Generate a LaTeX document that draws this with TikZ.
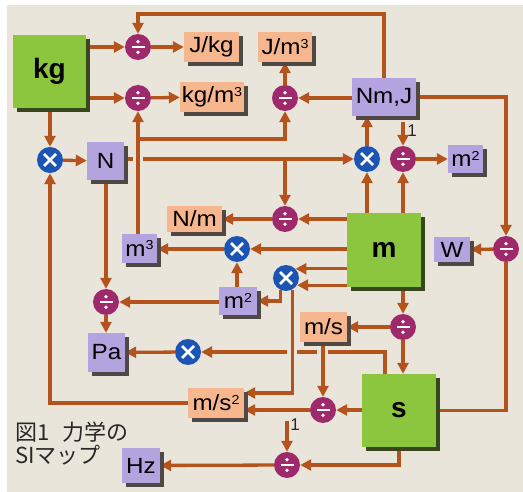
\documentclass[tikz,border=0pt]{standalone}
\usepackage{fontspec}
\setmainfont{Liberation Sans}
\newfontfamily\labf[FakeStretch=1.1]{Liberation Sans}
\newfontfamily\cjkf{Noto Sans CJK JP}
\usetikzlibrary{arrows.meta,calc}
\definecolor{bgc}{RGB}{233,229,219}
\definecolor{lc}{RGB}{180,84,28}
\definecolor{grc}{RGB}{140,198,63}
\definecolor{grsh}{RGB}{55,70,28}
\definecolor{orc}{RGB}{246,182,142}
\definecolor{puc}{RGB}{179,163,222}
\definecolor{shc}{RGB}{80,72,68}
\definecolor{dvc}{RGB}{158,42,108}
\definecolor{tmc}{RGB}{28,84,180}
\definecolor{capc}{RGB}{40,40,40}
\newcommand{\spw}[1]{\raisebox{6.5pt}{\fontsize{13}{13}\selectfont #1}}
% \ubox{name}{style}{shadowcolour}{w}{h}{x}{y}{text}
\newcommand{\ubox}[8]{%
  \node[rectangle, inner sep=0pt, fill=#3, minimum width=#4pt, minimum height=#5pt] (#1-sh) at (#6+4,#7+4) {};
  \node[#2, minimum width=#4pt, minimum height=#5pt] (#1) at (#6,#7) {#8};}
\pgfdeclarelayer{bgl}
\pgfdeclarelayer{edges}
\pgfsetlayers{bgl,edges,main}
\tikzset{
  conn/.style={draw=lc, line width=3.3pt},
  arr/.style={conn, -{Triangle[length=11pt,width=11pt]}},
  eraser/.style={draw=bgc, line width=4pt},
  unitbox/.style={rectangle, inner sep=0pt, font=\labf\fontsize{22}{22}\selectfont, text=black},
  orbox/.style={unitbox, fill=orc},
  pubox/.style={unitbox, fill=puc},
  grbox/.style={rectangle, inner sep=0pt, fill=grc, font=\bfseries\fontsize{28}{28}\selectfont},
  divop/.style={circle, fill=dvc, minimum size=26pt, inner sep=0pt,
    path picture={
      \fill[white] ($(path picture bounding box.center)+(-6.5pt,-1.3pt)$) rectangle ++(13pt,2.6pt);
      \fill[white] ($(path picture bounding box.center)+(0pt,5.2pt)$) circle (1.9pt);
      \fill[white] ($(path picture bounding box.center)+(0pt,-5.2pt)$) circle (1.9pt);
    }},
  mulop/.style={circle, fill=tmc, minimum size=26pt, inner sep=0pt,
    path picture={
      \draw[white, line width=2.6pt] ($(path picture bounding box.center)+(-6pt,-6pt)$) -- ++(12pt,12pt);
      \draw[white, line width=2.6pt] ($(path picture bounding box.center)+(-6pt,6pt)$) -- ++(12pt,-12pt);
    }},
  onelab/.style={inner sep=0pt, font=\fontsize{17}{17}\selectfont, text=capc},
  caplab/.style={inner sep=0pt, anchor=west, font=\cjkf\fontsize{22}{22}\selectfont, text=capc}
}
\begin{document}
\begin{tikzpicture}[x=1pt,y=-1pt]
\useasboundingbox (0,0) rectangle (523,492);
\begin{pgfonlayer}{bgl}
\fill[white] (0,0) rectangle (523,492);
\fill[bgc] (7,5) rectangle (523,492);
\end{pgfonlayer}

% main boxes
\ubox{kg}{grbox}{grsh}{73}{73}{49.5}{71.5}{kg}
\ubox{m}{grbox}{grsh}{74}{74}{384}{250}{m}
\ubox{s}{grbox}{grsh}{74}{73}{399}{410.5}{s}

% orange boxes
\ubox{Jkg}{orbox}{shc}{55}{30}{211.5}{47}{J/kg}
\ubox{Jm3}{orbox}{shc}{54}{30}{285}{47}{J/m\spw{3}}
\ubox{kgm3}{orbox}{shc}{64}{30}{212}{97}{kg/m\spw{3}}
\ubox{Nm}{orbox}{shc}{55}{26}{194.5}{219}{N/m}
\ubox{ms}{orbox}{shc}{47}{30}{323.5}{327}{m/s}
\ubox{ms2}{orbox}{shc}{56}{30}{216}{403}{m/s\spw{2}}

% purple boxes
\ubox{N}{pubox}{shc}{37}{38}{105.5}{161}{N}
\ubox{NmJ}{pubox}{shc}{64}{38}{384}{97}{Nm,J}
\ubox{m2a}{pubox}{shc}{35}{28}{465.5}{159}{m\spw{2}}
\ubox{W}{pubox}{shc}{36}{25}{452}{249.5}{W}
\ubox{m3}{pubox}{shc}{35}{29}{139.5}{248.5}{m\spw{3}}
\ubox{m2b}{pubox}{shc}{38}{28}{238}{301}{m\spw{2}}
\ubox{Pa}{pubox}{shc}{37}{39}{106.5}{352.5}{Pa}
\ubox{Hz}{pubox}{shc}{38}{35}{141}{465.5}{Hz}

% operators
\node[divop] (d1) at (138,47) {};
\node[divop] (d2) at (138,98) {};
\node[divop] (d3) at (285,98) {};
\node[divop] (d4) at (285,219) {};
\node[divop] (d5) at (403,159) {};
\node[divop] (d6) at (506,249) {};
\node[divop] (d7) at (106,302) {};
\node[divop] (d8) at (323,410) {};
\node[divop] (d9) at (403,327) {};
\node[divop] (d10) at (287,465) {};
\node[mulop] (t1) at (50,160) {};
\node[mulop] (t2) at (367,159) {};
\node[mulop] (t3) at (237,249) {};
\node[mulop] (t4) at (286,278) {};
\node[mulop] (t5) at (188,352) {};

% constants
\coordinate (o1) at (403,122);
\coordinate (o2) at (287,421);
\node[onelab] (one1) at (412,131) {1};
\node[onelab] (one2) at (295,425) {1};

% caption
\node[caplab] (cap1) at (15,432) {図1\hspace{0.6em}力学の};
\node[caplab] (cap2) at (15,455) {SIマップ};

\begin{pgfonlayer}{edges}
% top row
\draw[arr] (kg.east |- d1) -- (d1);
\draw[arr] (d1) -- (Jkg);
\draw[arr] (kg.east |- d2) -- (d2);
\draw[arr] (d2) -- (kgm3);
\draw[arr] (NmJ.north) -- (NmJ.north |- 0,14) -| (d1);
\draw[arr] (NmJ.west |- d3) -- (d3);
\draw[arr] (d3) -- (Jm3);
% N row
\draw[arr] (kg.south -| t1) -- (t1);
\draw[arr] (t1) -- (N);
\draw[arr] (N.east |- t2) -- (t2);
\draw[arr] (d4 |- t2) -- (d4);
\draw[eraser] ($(d2 |- t2)+(-5,0)$) -- ++(10,0);
% m3 column
\draw[arr] (d2 |- m3.north) -- (d2);
\draw[arr] (d2 |- 0,139) -| (d3);
% NmJ and m top
\draw[arr] (t2 |- m.north) -- (t2);
\draw[arr] (t2) -- (t2 |- NmJ.south);
\draw[arr] (d5 |- m.north) -- (d5);
\draw[arr] (o1) -- (d5);
\draw[arr] (d5) -- (m2a);
\draw[arr] (NmJ.east) -| (d6);
\draw[arr] (d6) -- (W);
\draw[conn] (s.east) -| (d6);
% m left
\draw[arr] (m.west |- d4) -- (d4);
\draw[arr] (d4) -- (Nm);
\draw[arr] (m.west |- t3) -- (t3);
\draw[arr] (t3) -- (m3.east |- t3);
\draw[arr] (t3 |- m2b.north) -- (t3);
\draw[arr] (m.west |- t4.44) -- (t4.44);
\draw[arr] (m.west |- t4.-33) -- (t4.-33);
\draw[arr] (t4.-113) |- (m2b.east);
\draw[arr] (m2b.west |- d7) -- (d7);
\draw[arr] (d7 |- N.south) -- (d7);
\draw[arr] (d7) -- (d7 |- Pa.north);
% s line to t5 with gaps
\draw[arr] (s.north -| 385,0) |- (t5);
\draw[eraser] (287,352) -- (297,352);
\draw[eraser] (317,352) -- (328,352);
\draw[arr] (t5) -- (Pa);
\draw[arr] (t4.-62) |- (ms2.east |- 0,393);
% m bottom, s
\draw[arr] (d9 |- m.south) -- (d9);
\draw[arr] (d9) -- (ms);
\draw[arr] (d9) -- (d9 |- s.north);
\draw[arr] (d8 |- ms.south) -- (d8);
\draw[arr] (s.west |- d8) -- (d8);
\draw[arr] (d8) -- (ms2.east |- d8);
\draw[arr] (ms2.west) -| (t1);
\draw[arr] (s.south) |- (d10);
\draw[arr] (o2) -- (d10);
\draw[arr] (d10) -- (Hz);
\end{pgfonlayer}
\end{tikzpicture}
\end{document}
